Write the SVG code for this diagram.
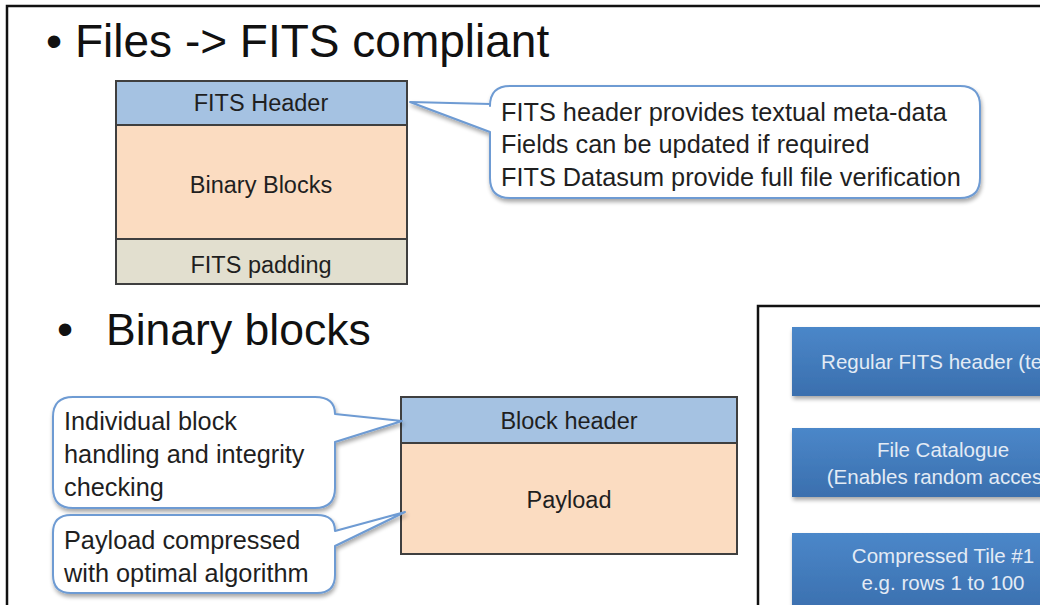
<svg xmlns="http://www.w3.org/2000/svg" width="1040" height="605" viewBox="0 0 1040 605">
<defs>
<linearGradient id="blueGrad" x1="0" y1="0" x2="0" y2="1">
<stop offset="0" stop-color="#4b87c9"/>
<stop offset="1" stop-color="#3a6fae"/>
</linearGradient>
<filter id="shadow" x="-5%" y="-10%" width="115%" height="130%">
<feGaussianBlur in="SourceAlpha" stdDeviation="2"/>
<feOffset dx="1" dy="3" result="b"/>
<feComponentTransfer><feFuncA type="linear" slope="0.35"/></feComponentTransfer>
<feMerge><feMergeNode/><feMergeNode in="SourceGraphic"/></feMerge>
</filter>
</defs>
<style>
text{font-family:"Liberation Sans",Arial,sans-serif;fill:#1f1f1f}
.title{font-size:46px;fill:#111}
.lbl{font-size:23.5px;text-anchor:middle}
.call{font-size:25.3px}
.cbox{fill:#fff;stroke:#6e9bd3;stroke-width:2;stroke-linejoin:round}
.seg{stroke:#3f3f3f;stroke-width:2}
.hdr{fill:#a5c2e2}
.bin{fill:#fbdcc1}
.pad{fill:#e2dfcf}
.bb{fill:url(#blueGrad)}
.bt{font-size:20.5px;fill:#e3ebf5;text-anchor:middle}
</style>
<rect width="1040" height="605" fill="#fff"/>
<path d="M7 605 V6 H1040" fill="none" stroke="#111" stroke-width="2.5"/>

<g id="title1">
<text class="title" x="46" y="57">•</text>
<text class="title" x="75" y="57">Files -&gt; FITS compliant</text>
</g>

<g id="fits-header">
<rect class="seg hdr" x="116" y="81" width="291" height="44"/>
<text class="lbl" x="261" y="111">FITS Header</text>
</g>
<g id="binary-blocks">
<rect class="seg bin" x="116" y="125" width="291" height="114"/>
<text class="lbl" x="261" y="193">Binary Blocks</text>
</g>
<g id="fits-padding">
<rect class="seg pad" x="116" y="239" width="291" height="45"/>
<text class="lbl" x="261" y="273">FITS padding</text>
</g>

<g id="callout-fits">
<path class="cbox" filter="url(#shadow)" d="M510 86 H960 Q980 86 980 106 V178 Q980 198 960 198 H510 Q490 198 490 178 V132 L410 102 L490 104 V106 Q490 86 510 86 Z"/>
<text class="call" x="501" y="121">FITS header provides textual meta-data</text>
<text class="call" x="501" y="153">Fields can be updated if required</text>
<text class="call" x="501" y="186">FITS Datasum provide full file verification</text>
</g>

<g id="title2">
<text class="title" x="57" y="345">•</text>
<text class="title" x="106" y="345" style="font-size:44.5px">Binary blocks</text>
</g>

<g id="block-header">
<rect class="seg hdr" x="401" y="397" width="336" height="46"/>
<text class="lbl" x="569" y="429">Block header</text>
</g>
<g id="payload">
<rect class="seg bin" x="401" y="443" width="336" height="111"/>
<text class="lbl" x="569" y="508">Payload</text>
</g>

<g id="callout-block">
<path class="cbox" filter="url(#shadow)" d="M73 397 H315 Q335 397 335 414 L402 421 L335 442 V488 Q335 508 315 508 H73 Q53 508 53 488 V417 Q53 397 73 397 Z"/>
<text class="call" x="64" y="430">Individual block</text>
<text class="call" x="64" y="463">handling and integrity</text>
<text class="call" x="64" y="496">checking</text>
</g>

<g id="callout-payload">
<path class="cbox" filter="url(#shadow)" d="M71 515 H317 Q335 515 335 531 L405 512 L335 546 V575 Q335 593 317 593 H71 Q53 593 53 575 V533 Q53 515 71 515 Z"/>
<text class="call" x="64" y="549">Payload compressed</text>
<text class="call" x="64" y="582">with optimal algorithm</text>
</g>

<g id="right-panel">
<path d="M758 605 V306 H1040" fill="none" stroke="#111" stroke-width="2.5"/>
</g>
<g id="regular-header">
<rect class="bb" filter="url(#shadow)" x="792" y="327" width="302" height="69"/>
<text class="bt" x="943" y="369">Regular FITS header (text)</text>
</g>
<g id="file-catalogue">
<rect class="bb" filter="url(#shadow)" x="792" y="428" width="302" height="69"/>
<text class="bt" x="943" y="457">File Catalogue</text>
<text class="bt" x="943" y="484">(Enables random access)</text>
</g>
<g id="tile1">
<rect class="bb" filter="url(#shadow)" x="792" y="533" width="302" height="80"/>
<text class="bt" x="943" y="563">Compressed Tile #1</text>
<text class="bt" x="943" y="590">e.g. rows 1 to 100</text>
</g>
<g id="connectors"></g>
</svg>
